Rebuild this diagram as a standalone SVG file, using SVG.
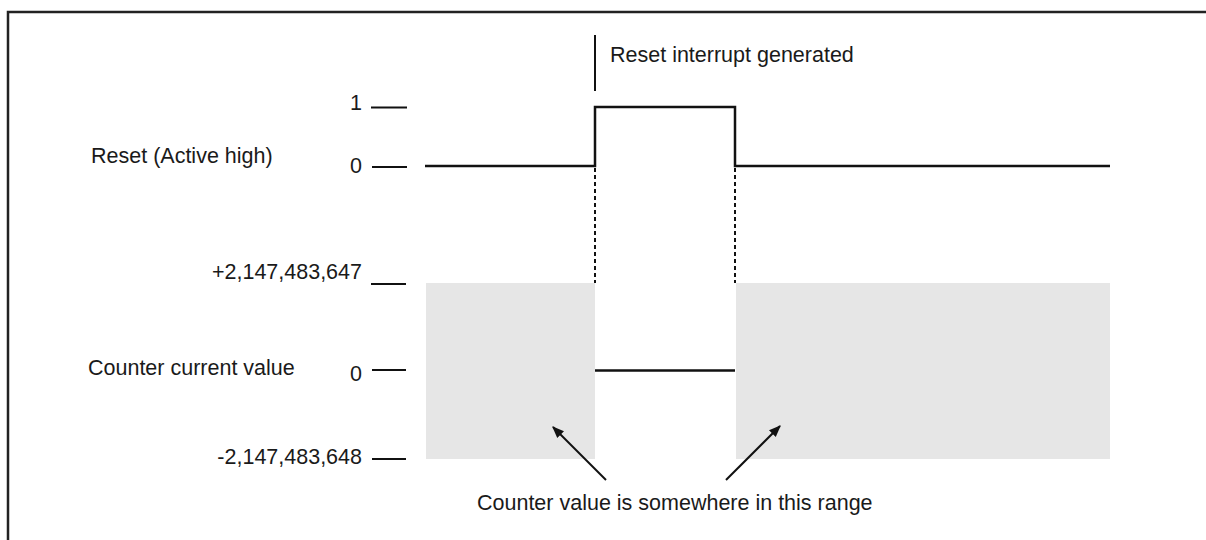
<svg xmlns="http://www.w3.org/2000/svg" width="1206" height="540" viewBox="0 0 1206 540">
<style>
text{font-family:"Liberation Sans",Arial,sans-serif;font-size:21.5px;fill:#1a1a1a}
.ln{stroke:#111;stroke-width:2;fill:none}
.sig{stroke:#111;stroke-width:2.5;fill:none}
.dash{stroke:#111;stroke-width:2;stroke-dasharray:4 3;fill:none}
.shade{fill:#e6e6e6}
.num{text-anchor:end}
</style>
<defs>
<marker id="ah" viewBox="0 0 10 10" refX="9" refY="5" markerWidth="6" markerHeight="6" orient="auto" markerUnits="strokeWidth">
<path d="M0,1 L10,5 L0,9 Z" fill="#111"/>
</marker>
</defs>
<g id="frame">
<path d="M8,540 V12 H1206" stroke="#222" stroke-width="2.5" fill="none"/>
</g>
<g id="shaded-ranges">
<rect class="shade" x="426" y="283" width="169" height="176"/>
<rect class="shade" x="736" y="283" width="374" height="176"/>
</g>
<g id="reset-signal">
<text x="91" y="163">Reset (Active high)</text>
<text class="num" x="362" y="110">1</text>
<text class="num" x="362" y="173">0</text>
<line class="ln" x1="371" y1="107.5" x2="407" y2="107.5"/>
<line class="ln" x1="372" y1="167" x2="407" y2="167"/>
<polyline class="sig" points="425,166 595,166 595,107 735,107 735,166 1110,166"/>
</g>
<g id="interrupt-marker">
<line class="ln" x1="595" y1="35" x2="595" y2="91"/>
<text x="610" y="62">Reset interrupt generated</text>
</g>
<g id="counter-value">
<text x="88" y="375">Counter current value</text>
<text class="num" x="362" y="279">+2,147,483,647</text>
<text class="num" x="362" y="381">0</text>
<text class="num" x="362" y="464">-2,147,483,648</text>
<line class="ln" x1="371" y1="284" x2="406" y2="284"/>
<line class="ln" x1="372" y1="370" x2="406" y2="370"/>
<line class="ln" x1="372" y1="459" x2="406" y2="459"/>
<line class="sig" x1="595" y1="370.5" x2="735" y2="370.5"/>
</g>
<g id="connectors">
<line class="dash" x1="595" y1="168" x2="595" y2="283"/>
<line class="dash" x1="735" y1="168" x2="735" y2="283"/>
<line class="ln" x1="606" y1="480" x2="553" y2="427" marker-end="url(#ah)"/>
<line class="ln" x1="726" y1="480" x2="780" y2="426" marker-end="url(#ah)"/>
</g>
<g id="range-note">
<text x="477" y="510">Counter value is somewhere in this range</text>
</g>
</svg>
